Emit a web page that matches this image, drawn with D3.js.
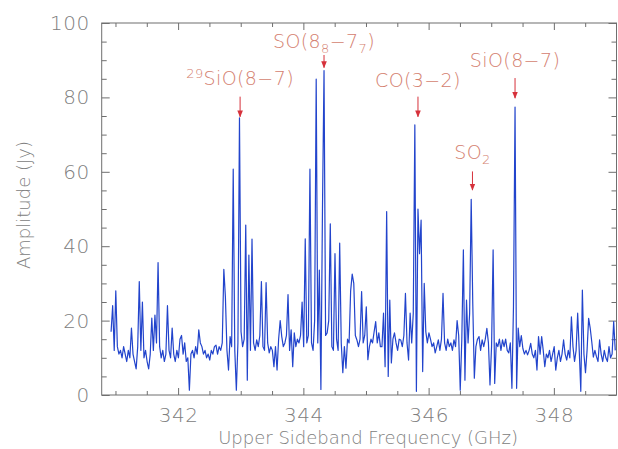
<!DOCTYPE html>
<html>
<head>
<meta charset="utf-8">
<script src="https://cdn.jsdelivr.net/npm/d3@7"></script>
<style>
  body { margin: 0; background: #fff; }
  svg text { font-family: "DejaVu Sans", sans-serif; font-weight: 200; }
</style>
</head>
<body>
<div id="spectrum"></div>
<script>
// channel grid of the spectrum (GHz)
const freqStart = 340.93;
const chanWidth = 0.025;

// amplitude per channel (Jy)
const amplitude = [
  17, 24, 12, 28, 13, 11, 12, 10, 13, 11,
  9, 12, 10, 18, 11, 9, 7, 13, 30.5, 12,
  25, 10, 12, 9, 7, 11, 20.7, 12, 21.5, 14,
  35.6, 13, 10, 12, 9, 11, 24, 12, 10, 18,
  11, 9, 12, 10, 15, 16, 11, 14, 9, 10,
  1.3, 11, 12, 10, 13, 11, 17.5, 14, 13, 11,
  12, 10, 11, 9.4, 12, 11, 13, 13.4, 11, 13,
  12, 14, 33.8, 26.4, 12, 6.7, 15.7, 13, 60.7, 12,
  1.3, 14, 74.5, 17, 13, 15, 45.7, 4, 37.6, 12,
  41.9, 14, 12, 14.8, 13, 16, 30.5, 13, 12, 30.2,
  14, 11.3, 13, 12, 7.6, 13, 6.7, 15, 20, 15.7,
  13, 14, 16, 27, 12, 17.5, 7.6, 16.7, 13, 15,
  14, 16, 25, 13, 42, 14, 16, 60.7, 14, 12,
  20, 84.9, 14, 33.6, 1.5, 49.7, 87.2, 16, 16.7, 20,
  46, 13, 12, 38, 15, 12, 40.8, 14, 6, 13,
  7.2, 15, 14, 28, 32.5, 30, 16, 14.8, 13, 15,
  27.8, 14, 16, 23.7, 9.5, 13, 15, 14, 17, 19.7,
  14, 16.7, 13, 13, 22, 7.6, 49.3, 5, 25.5, 8.6,
  15, 16.7, 14, 12, 15, 14.8, 13, 16, 27.3, 14,
  9.4, 22, 14, 22, 72.6, 1, 50, 38, 47, 6.3,
  30, 17, 14, 16.7, 15, 13, 14, 11.3, 13, 14.8,
  12, 15, 27.3, 14, 12, 15, 13, 14, 12, 14.8,
  13, 20, 16, 1.3, 15, 39, 4, 25.5, 14, 22,
  52.6, 24.6, 4.5, 13, 15, 15.7, 12, 14.8, 13, 15,
  17.9, 14, 2.7, 13, 39, 3.1, 14, 13, 15, 12,
  14.8, 13, 15, 12, 11.3, 14, 1.8, 23.7, 77.4, 1.8,
  18, 13, 16, 12.5, 11, 12, 10.8, 12, 13.9, 11,
  10, 12, 6.7, 15.7, 11, 15.7, 12, 7.6, 11, 10,
  12, 9, 11, 13, 6.7, 10, 12, 9, 11, 14.8,
  11, 9.4, 12, 10, 21, 13, 9, 12, 22, 12,
  1, 28.2, 11, 6, 12, 20.6, 18, 14.3, 10.2, 12,
  10.3, 9, 14.8, 11, 9, 12, 10, 9, 13, 10,
  11, 19.7, 12
];

// axis ticks
const xMajorTicks = [342, 344, 346, 348];
const xMinorTicks = [341, 341.5, 342.5, 343, 343.5, 344.5, 345, 345.5, 346.5, 347, 347.5, 348.5];
const yMajorTicks = [0, 20, 40, 60, 80, 100];
const yMinorTicks = [5, 10, 15, 25, 30, 35, 45, 50, 55, 65, 70, 75, 85, 90, 95];

// line identifications
const lineFreqs = [342.99, 344.33, 345.83, 346.70, 347.38];
const lineLabelAmp = [83.3, 93.3, 82.9, 63.4, 88.2];
const arrowTipAmp = [74.8, 88.0, 74.8, 55.1, 79.8];
const arrowLen = [5.4, 3.4, 5.4, 5.0, 5.4];

const outerWidth = 618, outerHeight = 449;
const margin = {top: 23, right: 1.5, bottom: 54, left: 101.7};
const width = outerWidth - margin.left - margin.right;
const height = outerHeight - margin.top - margin.bottom;

const textColor = "#808080";
const labelColor = "#d4806f";
const arrowColor = "#d6313b";

const svg = d3.select("#spectrum")
  .append("svg")
    .attr("width", outerWidth)
    .attr("height", outerHeight)
  .append("g")
    .attr("transform", "translate(" + margin.left + "," + margin.top + ")");

const x = d3.scaleLinear().domain([340.78, 349.0]).range([0, width]);
const y = d3.scaleLinear().domain([0, 100]).range([height, 0]);

// frame
svg.append("rect")
  .attr("width", width)
  .attr("height", height)
  .attr("fill", "none")
  .attr("stroke", "#6f6f6f")
  .attr("stroke-width", 1);

function styleAxis(g) {
  g.select(".domain").remove();
  g.selectAll("line").attr("stroke", "#6f6f6f");
  g.selectAll("text")
    .attr("fill", textColor)
    .style("font-size", "20px")
    .style("letter-spacing", "0.5px");
}

// bottom + top
svg.append("g")
  .attr("transform", "translate(0," + height + ")")
  .call(d3.axisBottom(x).tickValues(xMajorTicks).tickSize(-7).tickPadding(13).tickFormat(d3.format("d")))
  .call(styleAxis);
svg.append("g")
  .attr("transform", "translate(0," + height + ")")
  .call(d3.axisBottom(x).tickValues(xMinorTicks).tickSize(-4).tickFormat(""))
  .call(styleAxis);
svg.append("g")
  .call(d3.axisTop(x).tickValues(xMajorTicks).tickSize(-7).tickFormat(""))
  .call(styleAxis);
svg.append("g")
  .call(d3.axisTop(x).tickValues(xMinorTicks).tickSize(-4).tickFormat(""))
  .call(styleAxis);

// left + right
svg.append("g")
  .call(d3.axisLeft(y).tickValues(yMajorTicks).tickSize(-8).tickPadding(12))
  .call(styleAxis);
svg.append("g")
  .call(d3.axisLeft(y).tickValues(yMinorTicks).tickSize(-5).tickFormat(""))
  .call(styleAxis);
svg.append("g")
  .attr("transform", "translate(" + width + ",0)")
  .call(d3.axisRight(y).tickValues(yMajorTicks).tickSize(-8).tickFormat(""))
  .call(styleAxis);
svg.append("g")
  .attr("transform", "translate(" + width + ",0)")
  .call(d3.axisRight(y).tickValues(yMinorTicks).tickSize(-5).tickFormat(""))
  .call(styleAxis);

// axis titles
svg.append("text")
  .attr("x", width / 2 + 9)
  .attr("y", height + 49)
  .attr("text-anchor", "middle")
  .attr("fill", textColor)
  .style("font-size", "18px")
  .text("Upper Sideband Frequency (GHz)");

svg.append("text")
  .attr("transform", "rotate(-90)")
  .attr("x", -height / 2 + 4)
  .attr("y", -margin.left + 30)
  .attr("text-anchor", "middle")
  .attr("fill", textColor)
  .style("font-size", "18px")
  .text("Amplitude (Jy)");

// spectrum
const line = d3.line()
  .x((d, i) => x(freqStart + i * chanWidth))
  .y(d => y(d));

svg.append("path")
  .datum(amplitude)
  .attr("fill", "none")
  .attr("stroke", "#2244cc")
  .attr("stroke-width", 1.2)
  .attr("stroke-linejoin", "round")
  .attr("d", line);

// labels
const labels = svg.append("g")
  .attr("fill", labelColor)
  .style("font-size", "19px")
  .style("letter-spacing", "0.4px")
  .attr("text-anchor", "middle");

function labelText(i) {
  return labels.append("text")
    .attr("x", x(lineFreqs[i]))
    .attr("y", y(lineLabelAmp[i]));
}

// 29SiO(8-7)
let t = labelText(0);
t.append("tspan").style("font-size", "13px").attr("dy", -7).text("29");
t.append("tspan").attr("dy", 7).text("SiO(8\u22127)");

// SO(8_8-7_7)
t = labelText(1);
t.append("tspan").text("SO(8");
t.append("tspan").style("font-size", "13px").attr("dy", 5).text("8");
t.append("tspan").attr("dy", -5).text("\u22127");
t.append("tspan").style("font-size", "13px").attr("dy", 5).text("7");
t.append("tspan").attr("dy", -5).text(")");

// CO(3-2)
labelText(2).text("CO(3\u22122)");

// SO2
t = labelText(3);
t.append("tspan").text("SO");
t.append("tspan").style("font-size", "13px").attr("dy", 5).text("2");

// SiO(8-7)
labelText(4).text("SiO(8\u22127)");

// arrows
svg.append("defs").append("marker")
  .attr("id", "head")
  .attr("viewBox", "0 0 10 10")
  .attr("refX", 9)
  .attr("refY", 5)
  .attr("markerWidth", 7)
  .attr("markerHeight", 7)
  .attr("markerUnits", "userSpaceOnUse")
  .attr("orient", "auto")
  .append("path")
    .attr("d", "M0,1 L10,5 L0,9 Z")
    .attr("fill", arrowColor);

svg.append("g")
  .selectAll("line")
  .data(d3.range(lineFreqs.length))
  .enter()
  .append("line")
    .attr("x1", i => x(lineFreqs[i]))
    .attr("x2", i => x(lineFreqs[i]))
    .attr("y1", i => y(arrowTipAmp[i] + arrowLen[i]))
    .attr("y2", i => y(arrowTipAmp[i]))
    .attr("stroke", arrowColor)
    .attr("stroke-width", 1)
    .attr("marker-end", "url(#head)");
</script>
</body>
</html>
